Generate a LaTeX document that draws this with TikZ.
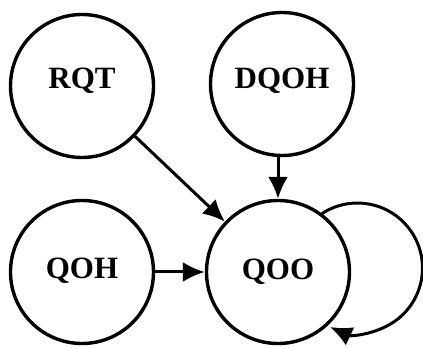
\documentclass[tikz,border=0pt]{standalone}
\usepackage{fontspec}
\setmainfont{Liberation Serif}
\usetikzlibrary{arrows.meta}

\begin{document}
\begin{tikzpicture}[x=1pt, y=1pt,
    state/.style={draw, circle, line width=3.4pt, minimum size=143pt, inner sep=0pt, font=\fontsize{31}{34}\selectfont\bfseries},
    flow/.style={line width=3pt, -{Latex[length=22pt, width=20pt]}}]
  \useasboundingbox (0,0) rectangle (423,348);
  \node[state] (rqt) at (82,262) {\raisebox{16pt}{RQT}};
  \node[state] (dqoh) at (282,264) {\raisebox{12pt}{DQOH}};
  \node[state] (qoh) at (82,76) {\raisebox{8pt}{QOH}};
  \node[state] (qoo) at (278,76) {\raisebox{4pt}{QOO}};
  \draw[flow] (rqt) -- (qoo);
  \draw[flow] (dqoh.south -| qoo.north) -- (qoo.north);
  \draw[flow] (qoh) -- (qoo);
  % self loop on QOO
  \draw[flow] (qoo.53) arc[start angle=123, end angle=-115, radius=65];
\end{tikzpicture}
\end{document}
